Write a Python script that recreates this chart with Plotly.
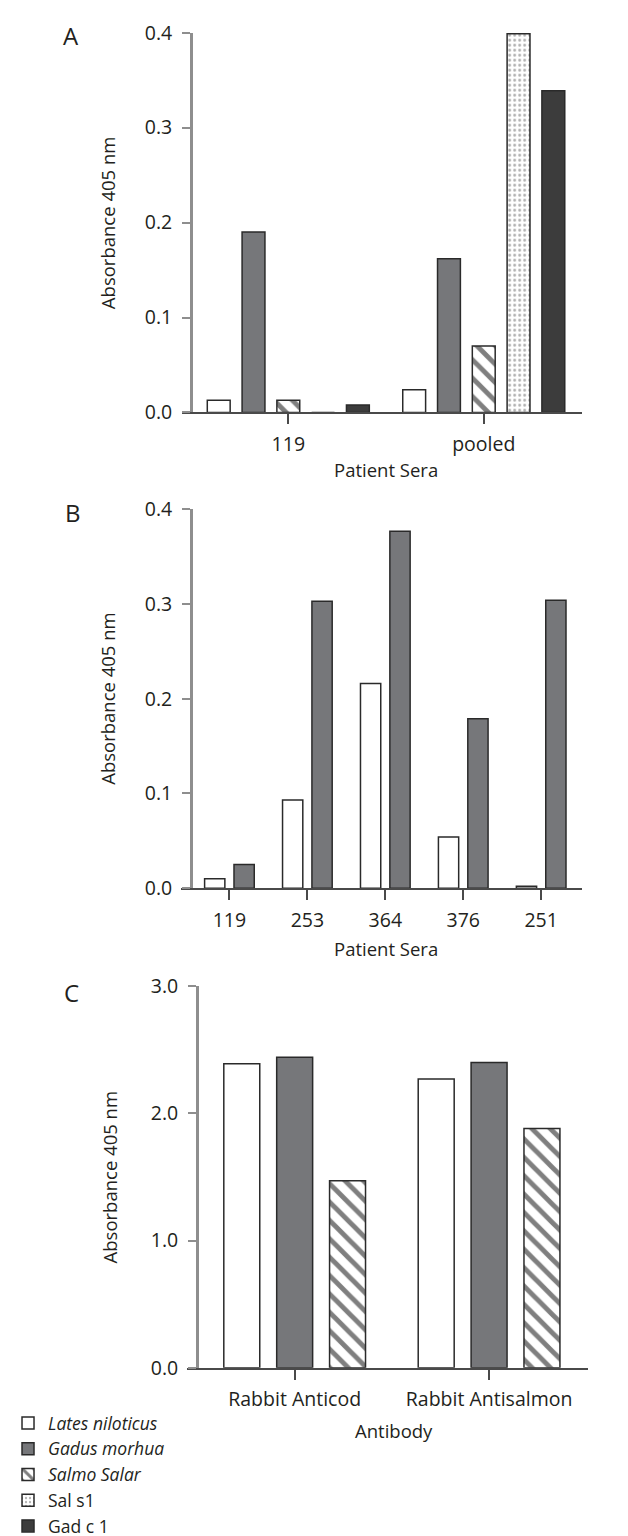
import plotly.graph_objects as go

W, H = 628, 1536

# ---------------- data ----------------
series = ["Lates niloticus", "Gadus morhua", "Salmo Salar", "Sal s1", "Gad c 1"]
legend_names = ["<i>Lates niloticus</i>", "<i>Gadus morhua</i>", "<i>Salmo Salar</i>", "Sal s1", "Gad c 1"]

a_categories = ["119", "pooled"]
a_lates = [0.013, 0.024]
a_gadus = [0.190, 0.162]
a_salmo = [0.013, 0.070]
a_sals1 = [0.0, 0.399]
a_gadc1 = [0.008, 0.339]

b_categories = ["119", "253", "364", "376", "251"]
b_lates = [0.010, 0.093, 0.216, 0.054, 0.002]
b_gadus = [0.025, 0.303, 0.377, 0.179, 0.304]

c_categories = ["Rabbit Anticod", "Rabbit Antisalmon"]
c_lates = [2.39, 2.27]
c_gadus = [2.44, 2.40]
c_salmo = [1.47, 1.88]

a_ticks = [0.0, 0.1, 0.2, 0.3, 0.4]
b_ticks = [0.0, 0.1, 0.2, 0.3, 0.4]
c_ticks = [0.0, 1.0, 2.0, 3.0]

# ---------------- styles ----------------
TXT = "#231f20"
FONT = "Open Sans"
OUTLINE = dict(color="#2a2a2a", width=1.5)

def marker_for(name):
    if name == "Lates niloticus":
        return dict(color="white", line=OUTLINE)
    if name == "Gadus morhua":
        return dict(color="#76777a", line=OUTLINE)
    if name == "Salmo Salar":
        return dict(color="white", line=OUTLINE,
                    pattern=dict(shape="\\", fgcolor="#000000", bgcolor="white",
                                 size=13, solidity=0.38))
    if name == "Sal s1":
        return dict(color="white", line=OUTLINE,
                    pattern=dict(shape=".", fgcolor="#5e5e5e", bgcolor="white",
                                 size=5, solidity=0.25))
    return dict(color="#3c3c3c", line=OUTLINE)

fig = go.Figure()

def add_group(cats, values_list, names, xa, ya, pitch, width, legend):
    n = len(values_list)
    for i, (vals, nm) in enumerate(zip(values_list, names)):
        center = (i - (n - 1) / 2) * pitch
        fig.add_trace(go.Bar(
            x=cats, y=vals, xaxis=xa, yaxis=ya,
            name=legend_names[series.index(nm)],
            marker=marker_for(nm),
            width=width, offset=center - width / 2,
            showlegend=legend, legendrank=series.index(nm),
        ))

add_group(a_categories, [a_lates, a_gadus, a_salmo, a_sals1, a_gadc1], series,
          "x", "y", 0.178, 0.117, True)
add_group(b_categories, [b_lates, b_gadus], series[:2], "x2", "y2", 0.377, 0.26, False)
add_group(c_categories, [c_lates, c_gadus, c_salmo], series[:3], "x3", "y3", 0.272, 0.185, False)

# ---------------- axes ----------------
def px_x(p):
    return p / W

def px_y(p):
    return 1 - p / H

tickfont = dict(family=FONT, size=19.5, color=TXT)

def xaxis(dom, rng, ya):
    return dict(domain=[px_x(dom[0]), px_x(dom[1])], range=rng, type="category",
                anchor=ya, showline=True, linecolor="#4a4a4a", linewidth=2,
                ticks="outside", ticklen=10, tickwidth=2, tickcolor="#4a4a4a",
                showgrid=False, zeroline=False, tickfont=tickfont,
                ticklabelstandoff=3, automargin=False, fixedrange=True)

def yaxis(dom, rng, pos, ticks):
    return dict(domain=[px_y(dom[1]), px_y(dom[0])], range=rng, anchor="free",
                position=px_x(pos), showline=True, linecolor="#8e8e8e", linewidth=3,
                ticks="outside", ticklen=8, tickwidth=2, tickcolor="#8e8e8e",
                tickvals=ticks, tickformat=".1f", showgrid=False, zeroline=False,
                tickfont=tickfont, ticklabelstandoff=6, automargin=False, fixedrange=True)

fig.update_layout(
    width=W, height=H,
    margin=dict(l=0, r=0, t=0, b=0),
    paper_bgcolor="white", plot_bgcolor="white",
    barmode="overlay",
    font=dict(family=FONT, color=TXT),
    xaxis=xaxis((172, 574), [-0.543, 1.504], "y"),
    yaxis=yaxis((25, 409), [0, 0.4], 181, a_ticks),
    xaxis2=xaxis((171, 574), [-0.619, 4.527], "y2"),
    yaxis2=yaxis((507, 890), [0, 0.4], 181, b_ticks),
    xaxis3=xaxis((177, 580), [-0.553, 1.510], "y3"),
    yaxis3=yaxis((989, 1375), [0, 3.0], 187, c_ticks),
    legend=dict(x=px_x(-3), y=px_y(1413), xanchor="left", yanchor="top",
                font=dict(family=FONT, size=17.5, color=TXT),
                bgcolor="rgba(0,0,0,0)", borderwidth=0, traceorder="normal",
                itemclick=False, itemdoubleclick=False),
    showlegend=True,
)

def note(text, x, y, size=18.5, angle=0):
    fig.add_annotation(text=text, x=px_x(x), y=px_y(y), xref="paper", yref="paper",
                       showarrow=False, textangle=angle, xanchor="center", yanchor="middle",
                       font=dict(family=FONT, size=size, color=TXT))

# axis titles
note("Absorbance 405 nm", 97, 217, angle=-90)
note("Absorbance 405 nm", 97, 698, angle=-90)
note("Absorbance 405 nm", 99, 1182, angle=-90)
note("Patient Sera", 377, 467)
note("Patient Sera", 377, 951)
note("Antibody", 385, 1438)
# panel letters
note("A", 60, 28, size=24)
note("B", 62, 510, size=24)
note("C", 61, 996, size=24)

fig.write_html("out.html")
